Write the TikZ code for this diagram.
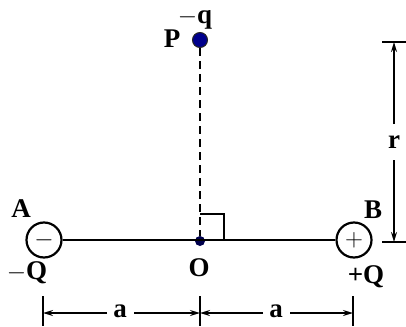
\documentclass[tikz,border=0pt]{standalone}
\usepackage{fontspec}
\setmainfont{Liberation Serif}
\usetikzlibrary{arrows.meta}
\begin{document}
\begin{tikzpicture}[x=1pt,y=-1pt,
  lbl/.style={font=\fontsize{27}{29}\selectfont\bfseries, inner sep=0pt, anchor=base},
  charge/.style={circle, draw, line width=2.2pt, minimum size=35pt, inner sep=0pt, font=\fontsize{26}{26}\selectfont\bfseries},
  wire/.style={line width=2pt},
  dim/.style={line width=1.5pt, -{Stealth[length=10pt,width=6pt]}},
  tick/.style={line width=1.5pt}]
\useasboundingbox (0,0) rectangle (406,326);
\node[charge] (A) at (44,240) {$-$};
\node[charge] (B) at (354,240) {$+$};
\node[circle, fill=blue!55!black, draw=black!85, line width=1pt, minimum size=15pt, inner sep=0pt] (P) at (200,40) {};
\node[circle, fill=blue!30!black, minimum size=10pt, inner sep=0pt] (O) at (200,241) {};
\draw[wire] (A) -- (B);
\draw[wire, dash pattern=on 8pt off 5pt] (P) -- (O);
\draw[wire] (200,214) -- (224,214) -- (224,241);
% labels
\node[lbl] (lA) at (21,217) {A};
\node[lbl] (lB) at (373,218) {B};
\node[lbl] (lmQ) at (27,279) {$-$Q};
\node[lbl] (lpQ) at (366,283) {+Q};
\node[lbl] (lO) at (199,276) {O};
\node[lbl] (lq) at (195,24) {$-$q};
\node[lbl] (lP) at (172,48) {P};
% bottom dimension
\coordinate (t1) at (43,296);
\coordinate (t2) at (200,296);
\coordinate (t3) at (353,296);
\draw[tick] (t1) -- ++(0,30);
\draw[tick] (t2) -- ++(0,30);
\draw[tick] (t3) -- ++(0,30);
\node[lbl] (a1) at (120,317) {a};
\node[lbl] (a2) at (276,317) {a};
\coordinate (d1) at (43,313);
\coordinate (d2) at (200,313);
\coordinate (d3) at (353,313);
\draw[dim] (107,313) -- (d1);
\draw[dim] (134,313) -- (d2);
\draw[dim] (263,313) -- (d2);
\draw[dim] (290,313) -- (d3);
% r dimension
\coordinate (r1) at (394,42);
\coordinate (r2) at (394,242);
\draw[tick] (382,42) -- (406,42);
\draw[tick] (382,242) -- (406,242);
\node[lbl] (lr) at (394,148) {r};
\draw[dim] (394,124) -- (r1);
\draw[dim] (394,160) -- (r2);
\end{tikzpicture}
\end{document}
